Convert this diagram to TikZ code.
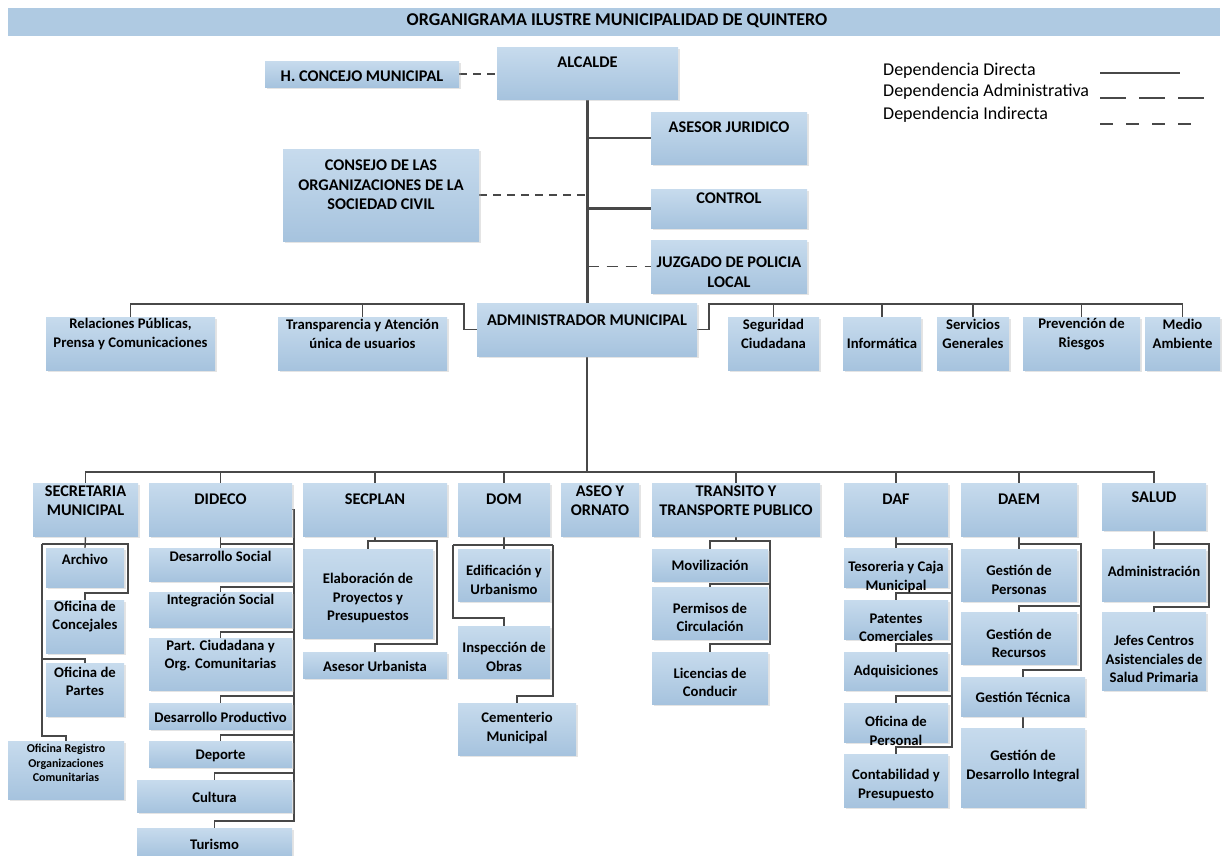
\documentclass[tikz,border=0pt]{standalone}
\usepackage{fontspec}
\setmainfont{Carlito}
\usetikzlibrary{shadows}
\pgfdeclarelayer{background}
\pgfsetlayers{background,main}
\definecolor{boxtop}{RGB}{199,219,237}
\definecolor{boxbot}{RGB}{166,195,222}
\definecolor{titlec}{RGB}{175,202,226}
\definecolor{linec}{RGB}{72,72,72}
\tikzset{
  box/.style={rectangle, inner sep=0pt, top color=boxtop, bottom color=boxbot,
    drop shadow={shadow xshift=2pt, shadow yshift=-2pt, fill=black!30, opacity=0.35}},
  conn/.style={draw=linec, line width=1.4pt},
  direct/.style={draw=linec, line width=2.8pt},
  admin/.style={draw=linec, line width=1.4pt, dash pattern=on 11pt off 8pt},
  indirect/.style={draw=linec, line width=1.4pt, dash pattern=on 8pt off 6pt},
  lbl/.style={align=center, inner sep=0pt, text=black, font=\bfseries\fontsize{14.7}{18.5}\selectfont},
  capl/.style={lbl, font=\bfseries\fontsize{16.3}{19.5}\selectfont},
  smalll/.style={lbl, font=\bfseries\fontsize{12}{14.5}\selectfont},
  legl/.style={anchor=west, inner sep=0pt, text=black, font=\fontsize{18}{20}\selectfont},
}
\newcommand\obox[8]{%
  \node[box, minimum width={#5-#3}, minimum height={#6-#4}] (#2) at ({(#3+#5)/2},{(#4+#6)/2}) {};
  \node[#1] (#2-t) at ({(#3+#5)/2},#7) {#8};}
\begin{document}
\begin{tikzpicture}[x=1pt,y=-1pt]
\useasboundingbox (0,0) rectangle (1222,855);
% title
\node[rectangle, inner sep=0pt, fill=titlec, minimum width=1212, minimum height=28] (title) at (614,22) {};
\node[font=\bfseries\fontsize{18}{20}\selectfont, inner sep=0pt, text=black] (title-t) at (617,21) {ORGANIGRAMA ILUSTRE MUNICIPALIDAD DE QUINTERO};
% legend
\node[legl] (lg1) at (883,71) {Dependencia Directa};
\node[legl] (lg2) at (883,92) {Dependencia Administrativa};
\node[legl] (lg3) at (883,115) {Dependencia Indirecta};
\coordinate (l1a) at (1100,73); \coordinate (l1b) at (1180,73);
\coordinate (l2a) at (1100,98); \coordinate (l2b) at (1205,98);
\coordinate (l3a) at (1100,124); \coordinate (l3b) at (1194,124);
\draw[direct] (l1a) -- (l1b);
\draw[draw=linec, line width=1.4pt, dash pattern=on 26pt off 13pt] (l2a) -- (l2b);
\draw[draw=linec, line width=1.4pt, dash pattern=on 13pt off 13pt] (l3a) -- (l3b);
% top level
\obox{capl}{hcm}{265}{61}{459}{87}{76}{H. CONCEJO MUNICIPAL}
\obox{capl}{alc}{497}{47}{678}{99}{62}{ALCALDE}
\obox{capl}{ase}{651}{112}{807}{164}{127}{ASESOR JURIDICO}
\obox{capl}{ctl}{651}{189}{807}{228}{198}{CONTROL}
\obox{capl}{juz}{651}{240}{807}{293}{272}{JUZGADO DE POLICIA\\LOCAL}
\obox{capl}{con}{283}{149}{479}{241}{185}{CONSEJO DE LAS\\ORGANIZACIONES DE LA\\SOCIEDAD CIVIL}
\obox{lbl}{rel}{46}{317}{215}{370}{334}{Relaciones Públicas,\\Prensa y Comunicaciones}
\obox{lbl}{tra}{278}{317}{447}{370}{334}{Transparencia y Atención\\única de usuarios}
\obox{capl}{adm}{477}{303}{697}{356}{320}{ADMINISTRADOR MUNICIPAL}
\obox{lbl}{seg}{728}{317}{819}{370}{334}{Seguridad\\Ciudadana}
\obox{lbl}{inf}{843}{317}{921}{370}{343}{Informática}
\obox{lbl}{ser}{937}{317}{1009}{370}{334}{Servicios\\Generales}
\obox{lbl}{pre}{1023}{317}{1140}{370}{334}{Prevención de\\Riesgos}
\obox{lbl}{med}{1145}{317}{1220}{370}{334}{Medio\\Ambiente}
% departments
\obox{capl}{sec}{33}{483}{138}{536}{500.5}{SECRETARIA\\MUNICIPAL}
\obox{capl}{did}{149}{483}{292}{536}{499}{DIDECO}
\obox{capl}{spl}{303}{483}{447}{536}{499}{SECPLAN}
\obox{capl}{dom}{458}{483}{550}{536}{499}{DOM}
\obox{capl}{aseo}{561}{483}{639}{536}{500.5}{ASEO Y\\ORNATO}
\obox{capl}{trn}{652}{483}{820}{536}{500.5}{TRANSITO Y\\TRANSPORTE PUBLICO}
\obox{capl}{daf}{844}{483}{948}{536}{499}{DAF}
\obox{capl}{daem}{961}{483}{1077}{536}{499}{DAEM}
\obox{capl}{sal}{1102}{483}{1206}{530}{497}{SALUD}
% secretaria
\obox{lbl}{arc}{46}{548}{124}{587}{559}{Archivo}
\obox{lbl}{ofc}{46}{600}{124}{653}{616.5}{Oficina de\\Concejales}
\obox{lbl}{ofp}{46}{663}{124}{716}{681.5}{Oficina de\\Partes}
\obox{smalll}{ore}{8}{741}{124}{799}{763}{Oficina Registro\\Organizaciones\\Comunitarias}
% dideco
\obox{lbl}{dso}{149}{548}{292}{581}{556}{Desarrollo Social}
\obox{lbl}{dis}{149}{592}{292}{627}{601}{Integración Social}
\obox{lbl}{dpc}{149}{638}{292}{690}{655.5}{Part. Ciudadana y\\Org. Comunitarias}
\obox{lbl}{dpr}{149}{703}{292}{729}{717}{Desarrollo Productivo}
\obox{lbl}{ddp}{149}{741}{292}{767}{756}{Deporte}
\obox{lbl}{dcu}{137}{780}{292}{812}{797}{Cultura}
\obox{lbl}{dtu}{137}{828}{292}{856}{844}{Turismo}
% secplan
\obox{lbl}{ela}{303}{549}{433}{638}{598}{Elaboración de\\Proyectos y\\Presupuestos}
\obox{lbl}{asu}{303}{652}{447}{678}{666}{Asesor Urbanista}
% dom
\obox{lbl}{edi}{458}{549}{550}{601}{580}{Edificación y\\Urbanismo}
\obox{lbl}{ins}{458}{626}{550}{678}{657}{Inspección de\\Obras}
\obox{lbl}{cem}{458}{703}{576}{755}{728}{Cementerio\\Municipal}
% transito
\obox{lbl}{mov}{652}{549}{768}{581}{565}{Movilización}
\obox{lbl}{per}{652}{587}{768}{639}{617.5}{Permisos de\\Circulación}
\obox{lbl}{lic}{652}{652}{768}{704}{682.5}{Licencias de\\Conducir}
% daf
\obox{lbl}{tes}{844}{548}{948}{587}{577}{Tesoreria y Caja\\Municipal}
\obox{lbl}{pat}{844}{600}{948}{639}{628}{Patentes\\Comerciales}
\obox{lbl}{adq}{844}{652}{948}{690}{671}{Adquisiciones}
\obox{lbl}{ofi}{844}{703}{948}{742}{731}{Oficina de\\Personal}
\obox{lbl}{cont}{844}{754}{948}{807}{785}{Contabilidad y\\Presupuesto}
% daem
\obox{lbl}{gp}{961}{549}{1077}{601}{580}{Gestión de\\Personas}
\obox{lbl}{gr}{961}{612}{1077}{664}{643.5}{Gestión de\\Recursos}
\obox{lbl}{gt}{961}{677}{1085}{716}{697}{Gestión Técnica}
\obox{lbl}{gd}{961}{728}{1085}{807}{766}{Gestión de\\Desarrollo Integral}
% salud
\obox{lbl}{sadm}{1102}{549}{1206}{601}{571}{Administración}
\obox{lbl}{jef}{1102}{612}{1206}{690}{659}{Jefes Centros\\Asistenciales de\\Salud Primaria}
% connectors
\begin{pgfonlayer}{background}
\draw[indirect] (hcm.east) -- (hcm.east -| alc.west);
\draw[direct] (alc.south) -- (alc.south |- adm.north);
\draw[direct] (alc.south |- ase.west) -- (ase.west);
\draw[direct] (alc.south |- ctl.west) -- (ctl.west);
\draw[admin] (alc.south |- juz.west) -- (juz.west);
\draw[indirect] (con.east) -- (con.east -| alc.south);
% staff left and right
\coordinate (lb) at (464,304);
\coordinate (rb) at (709,304);
\draw[conn] (adm.west) -| (lb) -| (rel.north);
\draw[conn] (tra.north) -- (tra.north |- lb);
\draw[conn] (adm.east) -| (rb) -| (med.north);
\draw[conn] (seg.north) -- (seg.north |- rb);
\draw[conn] (inf.north) -- (inf.north |- rb);
\draw[conn] (ser.north) -- (ser.north |- rb);
\draw[conn] (pre.north) -- (pre.north |- rb);
% bus
\coordinate (bus) at (587,472);
\draw[conn] (adm.south) -- (adm.south |- bus);
\draw[conn] (sec.north) |- (bus) -| (sal.north);
\foreach \n in {did,spl,dom,trn,daf,daem} \draw[conn] (\n.north) -- (\n.north |- bus);
% secretaria
\draw[conn] (sec.south) -- (arc.north);
\draw[conn] (42,544) -- (128,544) -- (128,593) -| (ofc.north);
\draw[conn] (42,544) -- (42,736) -| (ore.north);
\draw[conn] (42,659) -| (ofp.north);
% dideco
\draw[conn] (did.east) -- (294,509.5) -- (294,821) -| (dtu.north);
\draw[conn] (did.south) -- (dso.north);
\draw[conn] (dso.north |- 0,544) -- (294,544);
\draw[conn] (294,587) -| (dis.north);
\draw[conn] (294,632) -| (dpc.north);
\draw[conn] (294,696) -| (dpr.north);
\draw[conn] (294,735) -| (ddp.north);
\draw[conn] (294,773) -| (dcu.north);
% secplan
\draw[conn] (spl.south) -- (spl.south |- 0,541);
\draw[conn] (ela.north) |- (437,541) |- (375,644) -| (asu.north);
% dom
\draw[conn] (dom.south) -- (edi.north);
\draw[conn] (453,545) -- (553,545);
\draw[conn] (453,545) |- (504,618) -| (ins.north);
\draw[conn] (553,545) |- (517,696) -| (cem.north);
% transito
\draw[conn] (trn.south) -- (trn.south |- 0,541);
\draw[conn] (mov.north) |- (770,541) |- (710,644) -| (lic.north);
\draw[conn] (770,584) -| (per.north);
% daf
\draw[conn] (daf.south) -- (tes.north);
\draw[conn] (tes.north |- 0,544) -- (952,544) |- (896,747) -| (cont.north);
\draw[conn] (952,593) -| (pat.north);
\draw[conn] (952,644) -| (adq.north);
\draw[conn] (952,696) -| (ofi.north);
% daem
\draw[conn] (daem.south) -- (gp.north);
\draw[conn] (gp.north |- 0,544) -- (1081,544) |- (1023,670) -| (gt.north);
\draw[conn] (1081,606) -| (gr.north);
\draw[conn] (gt.south) -- (gd.north);
% salud
\draw[conn] (sal.south) -- (sadm.north);
\draw[conn] (sadm.north |- 0,544) -- (1209,544) |- (1154,607) -| (jef.north);
\end{pgfonlayer}
\end{tikzpicture}
\end{document}
